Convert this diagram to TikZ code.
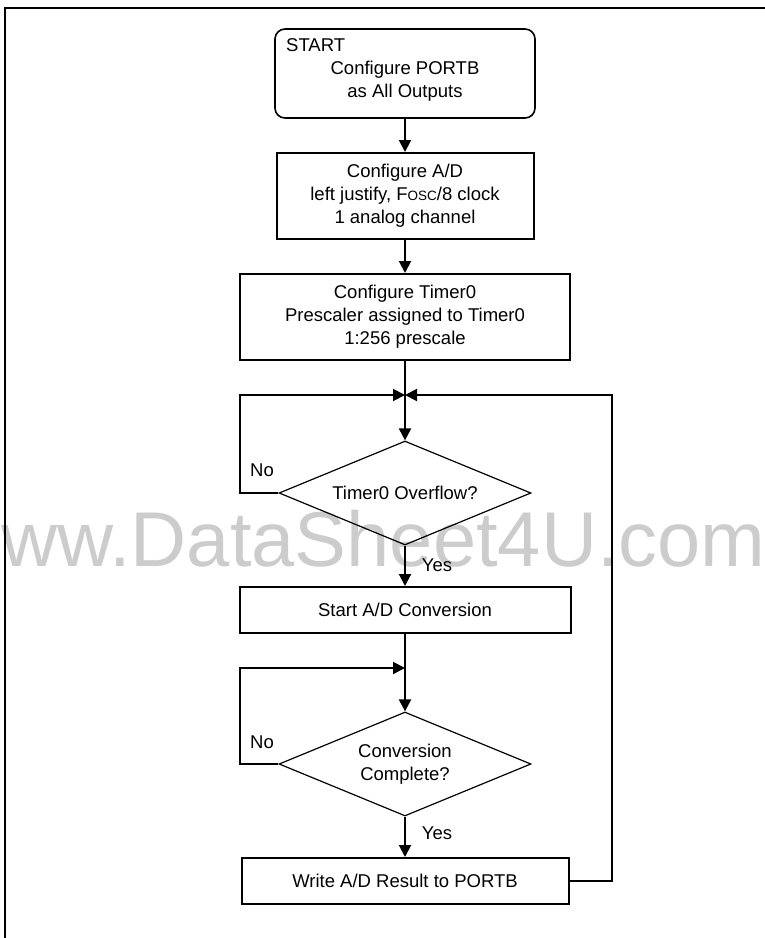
\documentclass[tikz,border=0pt]{standalone}
\usepackage{fontspec}
\setmainfont{Liberation Sans}
\usetikzlibrary{positioning, calc, arrows.meta, shapes.geometric}

\begin{document}
\begin{tikzpicture}[
    x=1pt, y=-1pt,
    font=\fontsize{18.5}{23}\selectfont,
    frame/.style={line width=2pt},
    watermark/.style={inner sep=0pt, text=black!20, font=\fontsize{77.7}{78}\selectfont},
    startbox/.style={rectangle, rounded corners=10pt, draw=black, line width=1.6pt, minimum width=260pt, minimum height=89pt},
    process/.style={rectangle, draw=black, line width=2pt, align=center, inner sep=0pt},
    decision/.style={diamond, draw=black, line width=1.2pt, aspect=2.4, inner sep=0pt, minimum width=252pt, minimum height=104pt, align=center},
    link/.style={line width=2pt},
    arrow/.style={-{Triangle[length=12pt, width=12pt]}, line width=2pt},
    tag/.style={inner sep=0pt, align=center}
]

    \useasboundingbox (0,0) rectangle (765,938);

    % Watermark and page frame
    \node[watermark, anchor=base west] (wm) at (1,566) {ww.DataSheet4U.com};
    \draw[frame] (5,940) -- (5,7.5) -- (767,7.5);

    % Start
    \node[startbox] (start) at (405,73.5) {};
    \node[tag, anchor=west] (startlbl) at (286,45) {START};
    \node[tag] (starttxt) at (405,81.5) {Configure PORTB\\as All Outputs};

    % Setup steps
    \node[process, minimum width=257pt, minimum height=86pt] (adcfg) at (405,196)
        {Configure A/D\\left justify, F{\fontsize{13.5}{13}\selectfont OSC}/8 clock\\1 analog channel};
    \node[process, minimum width=330pt, minimum height=86pt] (tmrcfg) at (405,317)
        {Configure Timer0\\Prescaler assigned to Timer0\\1:256 prescale};

    % Main loop
    \coordinate (J1) at (405,395);
    \node[decision] (ovf) at (405,493) {Timer0 Overflow?};
    \node[process, minimum width=331pt, minimum height=46pt] (adgo) at (405,610) {Start A/D Conversion};
    \coordinate (J2) at (405,668);
    \node[decision] (done) at (405,764) {Conversion\\Complete?};
    \node[process, minimum width=327pt, minimum height=46pt] (wr) at (405,881) {Write A/D Result to PORTB};

    % Connections
    \draw[arrow] (start) -- (adcfg);
    \draw[arrow] (adcfg) -- (tmrcfg);
    \draw[link] (tmrcfg) -- (J1);
    \draw[arrow] (J1) -- (ovf);
    \draw[arrow] (ovf) -- (adgo);
    \draw[link] (adgo) -- (J2);
    \draw[arrow] (J2) -- (done);
    \draw[arrow] (done) -- (wr);

    % Loops back
    \draw[arrow] (ovf.west) -- ++(-38,0) |- (J1);
    \draw[arrow] (done.west) -- ++(-38,0) |- (J2);
    \draw[arrow] (wr.east) -- ++(42,0) |- (J1);

    % Branch labels
    \node[tag] (no1) at (262,470) {No};
    \node[tag] (yes1) at (437,565) {Yes};
    \node[tag] (no2) at (262,742) {No};
    \node[tag] (yes2) at (437,833) {Yes};

\end{tikzpicture}
\end{document}
